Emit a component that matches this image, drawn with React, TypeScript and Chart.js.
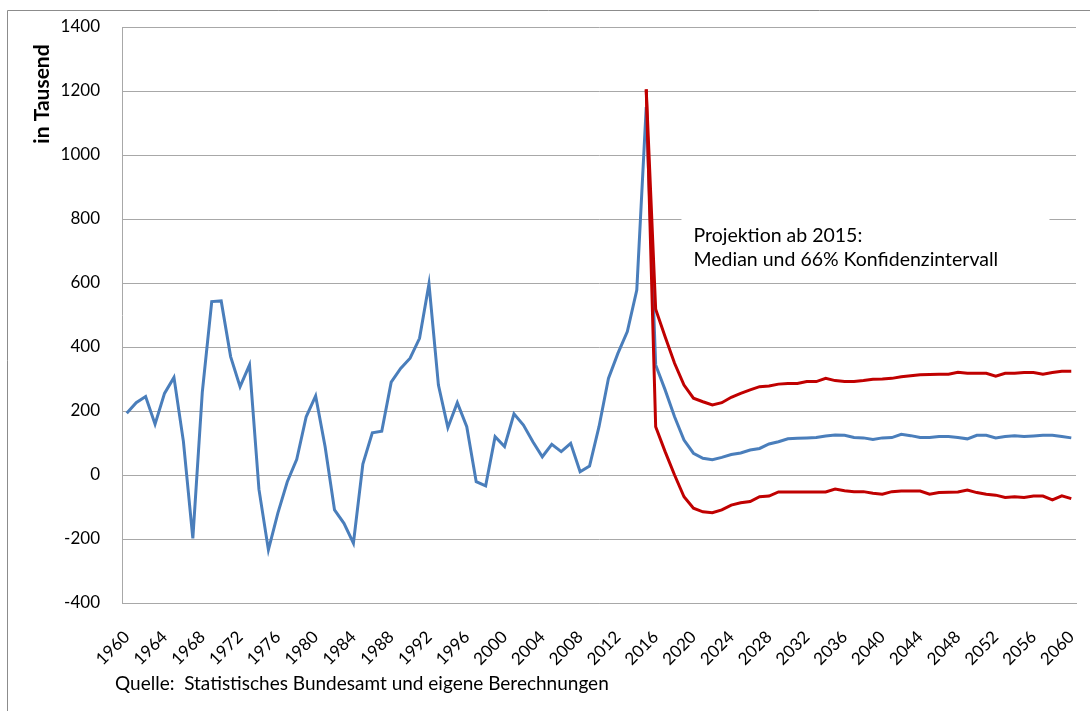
import React, { useEffect, useRef } from "react";
import { Chart, registerables } from "chart.js";

Chart.register(...registerables);

const FIRST_YEAR = 1960;
const LAST_YEAR = 2060;
const PROJECTION_START = 2015;

const years: string[] = [];
for (let y = FIRST_YEAR; y <= LAST_YEAR; y++) years.push(String(y));

// Net migration 1960-2015 (in thousands)
const historical = [
  193, 226, 245, 159, 255, 305, 105, -198, 258, 542,
  544, 370, 276, 344, -45, -234, -119, -21, 49, 182,
  247, 89, -109, -151, -213, 34, 132, 137, 290, 333,
  365, 427, 597, 281, 148, 226, 151, -21, -34, 120,
  89, 191, 156, 104, 57, 96, 73, 99, 10, 28,
  151, 302, 380, 448, 578, 1150,
];

// Median projection 2016-2060
const median = [
  344, 266, 182, 109, 68, 52, 48, 55, 64, 69,
  78, 83, 97, 104, 113, 115, 116, 117, 122, 125,
  124, 117, 116, 111, 116, 117, 127, 123, 117, 117,
  120, 120, 117, 113, 124, 124, 116, 120, 123, 120,
  122, 124, 124, 120, 116,
];

// 66% confidence interval, 2015-2060
const upper = [
  1205, 518, 432, 349, 281, 240, 229, 219, 226, 243,
  255, 266, 276, 278, 284, 286, 286, 292, 292, 302,
  295, 292, 292, 295, 299, 300, 302, 307, 310, 313,
  314, 315, 315, 321, 318, 318, 318, 309, 318, 318,
  320, 320, 315, 320, 324, 324,
];
const lower = [
  1205, 151, 73, 0, -68, -104, -115, -118, -109, -94,
  -87, -83, -68, -66, -53, -53, -53, -53, -53, -53,
  -44, -49, -52, -52, -57, -60, -52, -50, -50, -50,
  -60, -55, -54, -53, -47, -55, -60, -63, -70, -68,
  -70, -66, -66, -78, -65, -74,
];

const yTicks = { min: -400, max: 1400, step: 200 };
const yTitle = "in Tausend";
const annotationLines = ["Projektion ab 2015:", "Median und 66% Konfidenzintervall"];
const sourceText = "Quelle:  Statistisches Bundesamt und eigene Berechnungen";

const FONT = "Lato, 'Open Sans', sans-serif";
const GRID = "#a8a8a8";
const BLUE = "#4a7ebb";
const RED = "#c00000";

export default function App() {
  const ref = useRef<HTMLCanvasElement | null>(null);

  useEffect(() => {
    if (!ref.current) return;
    const padBefore = years.indexOf(String(PROJECTION_START));
    const blueData = [...historical, ...median];
    const upperData = [...Array(padBefore).fill(null), ...upper];
    const lowerData = [...Array(padBefore).fill(null), ...lower];

    const overlay = {
      id: "overlay",
      beforeDraw(chart: any) {
        const ctx = chart.ctx;
        ctx.save();
        ctx.fillStyle = "#fff";
        ctx.fillRect(0, 0, chart.width, chart.height);
        // outer frame: only its top and left edges fall inside the picture
        ctx.strokeStyle = "#8c8c8c";
        ctx.lineWidth = 1;
        ctx.beginPath();
        ctx.moveTo(7.5, chart.height);
        ctx.lineTo(7.5, 10.5);
        ctx.lineTo(chart.width, 10.5);
        ctx.stroke();
        ctx.restore();
      },
      beforeDatasetsDraw(chart: any) {
        const { ctx, scales } = chart;
        const x = scales.x;
        const y = scales.y;
        const tx = x.getPixelForValue(years.indexOf("2020"));
        const ty = y.getPixelForValue(800);
        ctx.save();
        ctx.fillStyle = "#fff";
        ctx.fillRect(tx - 12, ty - 8, 368, 60);
        ctx.fillStyle = "#000";
        ctx.font = `19.5px ${FONT}`;
        ctx.textAlign = "left";
        ctx.textBaseline = "alphabetic";
        ctx.fillText(annotationLines[0], tx, ty + 23);
        ctx.fillText(annotationLines[1], tx, ty + 47);
        ctx.restore();
      },
      afterDraw(chart: any) {
        const { ctx, scales, chartArea } = chart;
        const y = scales.y;
        ctx.save();
        ctx.fillStyle = "#000";
        ctx.font = `bold 21px ${FONT}`;
        ctx.textAlign = "center";
        ctx.textBaseline = "middle";
        ctx.translate(42, (y.getPixelForValue(1400) + y.getPixelForValue(1000)) / 2 + 3);
        ctx.rotate(-Math.PI / 2);
        ctx.fillText(yTitle, 0, 0);
        ctx.restore();

        ctx.save();
        ctx.fillStyle = "#000";
        ctx.font = `19px ${FONT}`;
        ctx.textAlign = "left";
        ctx.textBaseline = "alphabetic";
        ctx.fillText(sourceText, 115, 690);
        // keep the strip right of the plot clean (below the top frame line)
        ctx.fillStyle = "#fff";
        ctx.fillRect(chartArea.right + 3, 12, chart.width - chartArea.right, chartArea.bottom + 10);
        ctx.restore();
      },
    };

    const chart = new Chart(ref.current, {
      type: "line",
      data: {
        labels: years,
        datasets: [
          { label: "Obere Grenze", data: upperData, borderColor: RED, borderWidth: 3, pointRadius: 0, tension: 0, fill: false, order: 1 },
          { label: "Untere Grenze", data: lowerData, borderColor: RED, borderWidth: 3, pointRadius: 0, tension: 0, fill: false, order: 1 },
          { label: "Wanderungssaldo / Median", data: blueData, borderColor: BLUE, borderWidth: 3, pointRadius: 0, tension: 0, fill: false, order: 2 },
        ],
      },
      options: {
        responsive: false,
        animation: false,
        devicePixelRatio: 1,
        layout: { padding: { top: 27, right: 14, left: 0, bottom: 0 } },
        plugins: { legend: { display: false }, tooltip: { enabled: false }, title: { display: false } },
        scales: {
          x: {
            type: "category",
            offset: true,
            grid: { display: false, drawTicks: false },
            border: { display: true, color: GRID, width: 1 },
            ticks: {
              autoSkip: false,
              maxRotation: 45,
              minRotation: 45,
              padding: 24,
              color: "#000",
              font: { family: FONT, size: 17 },
              callback: (_v: any, i: number) => ((FIRST_YEAR + i) % 4 === 0 ? years[i] : ""),
            },
            afterFit: (s: any) => {
              s.height = 108;
              s.paddingLeft = 0;
              s.paddingRight = 0;
            },
          },
          y: {
            min: yTicks.min,
            max: yTicks.max,
            grid: { color: GRID, lineWidth: 1, drawTicks: false },
            border: { display: true, color: GRID, width: 1 },
            ticks: {
              stepSize: yTicks.step,
              padding: 22,
              color: "#000",
              font: { family: FONT, size: 17 },
              callback: (v: any) => String(v),
            },
            afterFit: (s: any) => {
              s.width = 122;
              s.paddingTop = 0;
              s.paddingBottom = 0;
            },
          },
        },
      },
      plugins: [overlay],
    } as any);

    return () => chart.destroy();
  }, []);

  return (
    <div style={{ position: "absolute", left: 0, top: 0, width: 1090, height: 711, overflow: "hidden", background: "#fff" }}>
      <canvas ref={ref} width={1090} height={711} style={{ display: "block" }} />
    </div>
  );
}
